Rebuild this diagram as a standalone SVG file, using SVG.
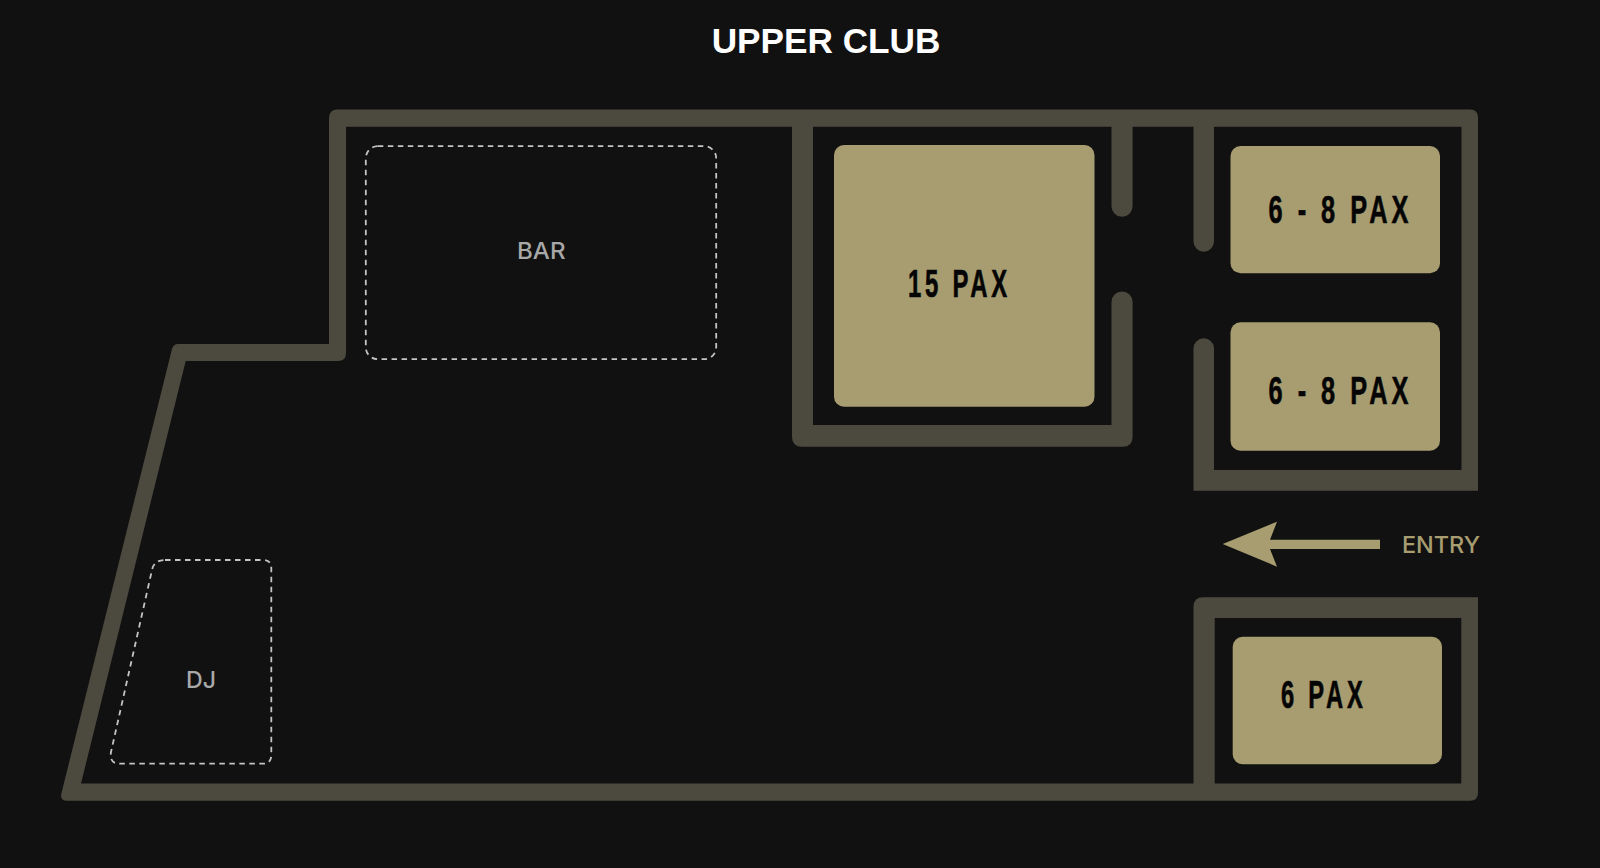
<svg xmlns="http://www.w3.org/2000/svg" width="1600" height="868" viewBox="0 0 1600 868">
<style>
.wall{fill:#4c4a3f;fill-rule:evenodd}
.room{fill:#a89d70}
.zone{fill:none;stroke:#c4c4c4;stroke-width:1.8;stroke-dasharray:5.5 4.5}
.pax{font-family:"Liberation Sans Narrow","Liberation Sans",sans-serif;font-weight:700;font-size:38px;fill:#050505;stroke:#050505;stroke-width:.6;letter-spacing:6px}
.lab{font-family:Inter,"Liberation Sans",sans-serif;font-size:23px;font-weight:500;fill:#a8a8a8}
</style>
<rect width="1600" height="868" fill="#111111"/>
<text x="826" y="53" text-anchor="middle" font-family="Liberation Sans, sans-serif" font-weight="700" font-size="35.200" fill="#ffffff">UPPER CLUB</text>
<g id="walls">
<path class="wall" d="M67 800.7Q59.5 800.7 61.5 793L172 349Q173.5 344 178 344H329V118Q329 109.5 337.5 109.5H1470Q1478 109.5 1478 117.5V490.7H1193.500V348.500A10.250 10.250 0 0 1 1214 348.500V470H1461.500V126.700H1214V241.500A10.250 10.250 0 0 1 1193.500 241.500V126.700H346V353Q346 361 338 361H185.700L81 783.500H1193.500V607Q1193.500 597.300 1203 597.300H1478V793Q1478 800.700 1470 800.700ZM1214.700 618V783.500H1461.300V618Z"/>
<path class="wall" d="M792 126H813V425H1111.500V302A10.500 10.500 0 0 1 1132.600 302V436.700Q1132.600 446.700 1122.600 446.700H802Q792 446.700 792 436.700Z"/>
<path class="wall" d="M1111.500 126H1132.600V206.200A10.500 10.500 0 0 1 1111.500 206.200Z"/>
</g>
<g id="room-15">
<rect class="room" x="834" y="145" width="260.500" height="261.700" rx="10"/>
<text class="pax" x="908" y="297.300" textLength="103" lengthAdjust="spacingAndGlyphs">15 PAX</text>
</g>
<g id="room-6-8-a">
<rect class="room" x="1230.500" y="146" width="209.500" height="127.300" rx="10"/>
<text class="pax" x="1268.500" y="223.300" textLength="144" lengthAdjust="spacingAndGlyphs">6 - 8 PAX</text>
</g>
<g id="room-6-8-b">
<rect class="room" x="1230.500" y="322.300" width="209.500" height="128.400" rx="10"/>
<text class="pax" x="1268.500" y="404.300" textLength="144" lengthAdjust="spacingAndGlyphs">6 - 8 PAX</text>
</g>
<g id="room-6">
<rect class="room" x="1232.700" y="636.700" width="209.300" height="127.600" rx="10"/>
<text class="pax" x="1281" y="708.300" textLength="85.500" lengthAdjust="spacingAndGlyphs">6 PAX</text>
</g>
<g id="bar">
<rect class="zone" x="365.800" y="146.200" width="350.400" height="213" rx="12"/>
<text class="lab" x="517" y="259.300" textLength="48.500" lengthAdjust="spacingAndGlyphs">BAR</text>
</g>
<g id="dj">
<path class="zone" d="M165 560H263Q271.300 560 271.300 568V755Q271.300 763.700 263 763.700H120Q109 763.700 111 752L152 570Q154 560 165 560Z"/>
<text class="lab" x="186" y="687.700" textLength="30" lengthAdjust="spacingAndGlyphs">DJ</text>
</g>
<g id="connectors">
<path d="M1380 539.700H1270L1277 521.700L1222.700 544L1277 566.700L1270 549H1380Z" fill="#a89d70"/>
</g>
<text id="entry" x="1402" y="553.300" font-family="Inter, sans-serif" font-size="23" font-weight="500" fill="#a89d70" textLength="78" lengthAdjust="spacingAndGlyphs">ENTRY</text>
</svg>
